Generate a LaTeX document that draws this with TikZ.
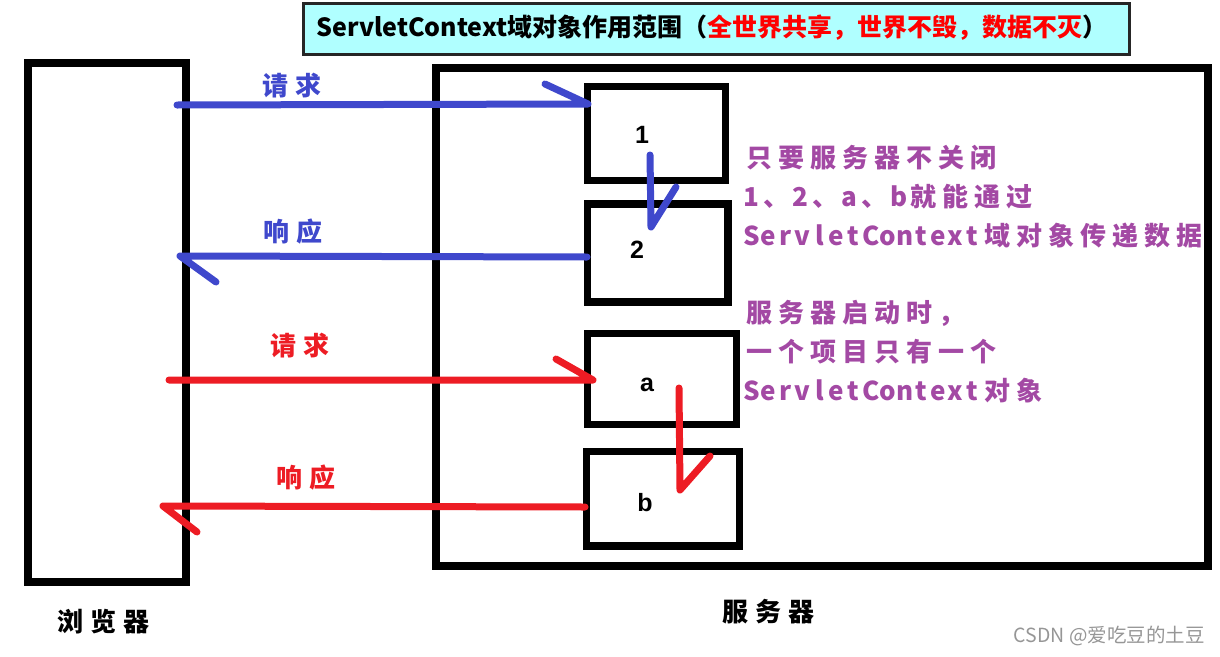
\documentclass[tikz,border=0pt]{standalone}
\usepackage{fontspec}
\newfontfamily\cjk{Noto Sans CJK SC}
\newfontfamily\lsans{Liberation Sans}
\definecolor{pblue}{RGB}{63,72,204}
\definecolor{pred}{RGB}{237,28,36}
\definecolor{ppurple}{RGB}{163,73,164}
\definecolor{tcyan}{RGB}{176,255,255}
\definecolor{wgray}{RGB}{150,150,150}
\definecolor{tred}{RGB}{255,0,0}
\newlength\latw \newlength\cjw
\def\mend{\mend}
\def\mcell#1{\ifnum`#1>255 \makebox[\cjw]{#1}\else\makebox[\latw]{#1}\fi}
\def\mloop#1{\ifx#1\mend\else\mcell{#1}\expandafter\mloop\fi}
\begin{document}
\begin{tikzpicture}[x=1pt,y=-1pt,
  box/.style={draw=black,line width=8pt,rectangle,inner sep=0pt},
  smallbox/.style={draw=black,line width=7.5pt,rectangle,inner sep=0pt},
  conn/.style={line width=7pt,line cap=round,line join=round},
  hand/.style={inner sep=0pt,anchor=west,font=\cjk\bfseries\fontsize{26}{26}\selectfont},
  note/.style={hand,text=ppurple},
  digit/.style={inner sep=0pt,font=\lsans\bfseries\fontsize{25}{25}\selectfont}]
\useasboundingbox (0,0) rectangle (1220,656);
% title
\node[draw=black!85,line width=3pt,fill=tcyan,minimum width=826pt,minimum height=51pt,inner sep=0pt] (titlebox) at (716.5,29) {};
\node[inner sep=0pt,font=\cjk\bfseries\fontsize{25}{25}\selectfont] (title) at (712,28)
  {ServletContext域对象作用范围（\textcolor{tred}{全世界共享，世界不毁，数据不灭}）};
% main boxes
\node[box,minimum width=158.5pt,minimum height=519pt] (browser) at (106.75,322.5) {};
\node[box,minimum width=772.5pt,minimum height=497.5pt] (server) at (821.75,316.75) {};
\node[smallbox,minimum width=138pt,minimum height=94pt] (b1) at (656.5,133.5) {};
\node[smallbox,minimum width=140.5pt,minimum height=98pt] (b2) at (657.75,253) {};
\node[smallbox,minimum width=149pt,minimum height=91pt] (ba) at (662,379) {};
\node[smallbox,minimum width=153pt,minimum height=94.5pt] (bb) at (663,498.75) {};
\node[digit] (l1) at (642,135) {1};
\node[digit] (l2) at (637,250) {2};
\node[digit] (la) at (647,385) {a};
\node[digit] (lb) at (645,503) {b};
% connector end points
\coordinate (rq1s) at (177,105);
\coordinate (rq1e) at (588,104);
\coordinate (rq1b) at (545,84);
\coordinate (d12s) at (650,155);
\coordinate (d12e) at (651,227);
\coordinate (d12b) at (676,187);
\coordinate (rs1s) at (587,257);
\coordinate (rs1e) at (180,256);
\coordinate (rs1b) at (216,282);
\coordinate (rq2s) at (169,380);
\coordinate (rq2e) at (593,380);
\coordinate (rq2b) at (556,359);
\coordinate (dabs) at (679,388);
\coordinate (dabe) at (680,490);
\coordinate (dabb) at (710,456);
\coordinate (rs2s) at (585,507);
\coordinate (rs2e) at (163,506);
\coordinate (rs2b) at (197,532);
\draw[conn,pblue] (rq1s) -- (rq1e) -- (rq1b);
\draw[conn,pblue] (d12s) -- (d12e) -- (d12b);
\draw[conn,pblue] (rs1s) -- (rs1e) -- (rs1b);
\draw[conn,pred] (rq2s) -- (rq2e) -- (rq2b);
\draw[conn,pred] (dabs) -- (dabe) -- (dabb);
\draw[conn,pred] (rs2s) -- (rs2e) -- (rs2b);
% labels
\setlength\cjw{33pt}\setlength\latw{17pt}
\node[hand,text=pblue] (t1) at (259,86) {\mloop 请求\mend};
\node[hand,text=pblue] (t2) at (260,232) {\mloop 响应\mend};
\node[hand,text=pred] (t3) at (267,346) {\mloop 请求\mend};
\node[hand,text=pred] (t4) at (273,478) {\mloop 响应\mend};
\node[hand,text=black] (t5) at (54,622) {\mloop 浏览器\mend};
\node[hand,text=black] (t6) at (719,612) {\mloop 服务器\mend};
% notes
\setlength\cjw{32pt}
\node[note] (n1) at (743,158) {\mloop 只要服务器不关闭\mend};
\node[note] (n2) at (743,197) {\mloop 1、2、a、b就能通过\mend};
\node[note] (n3) at (743,236) {\mloop ServletContext域对象传递数据\mend};
\node[note] (n4) at (743,313) {\mloop 服务器启动时，\mend};
\node[note] (n5) at (743,352) {\mloop 一个项目只有一个\mend};
\node[note] (n6) at (743,391) {\mloop ServletContext对象\mend};
% watermark
\node[inner sep=0pt,anchor=east,text=wgray,font=\cjk\fontsize{19.5}{19.5}\selectfont] (wm) at (1205,636) {CSDN @爱吃豆的土豆};
\end{tikzpicture}
\end{document}
